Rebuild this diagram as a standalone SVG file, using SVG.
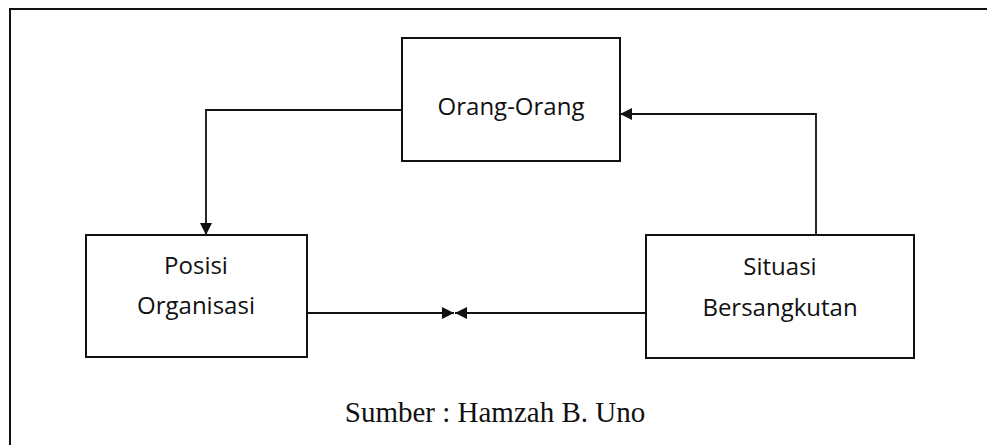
<svg xmlns="http://www.w3.org/2000/svg" width="987" height="445" viewBox="0 0 987 445">
<style>
.box{fill:#fff;stroke:#111;stroke-width:2}
.lbl{font-family:"Open Sans","Noto Sans",sans-serif;font-size:24px;fill:#111;text-anchor:middle}
.cap{font-family:"Liberation Serif",serif;font-size:29px;fill:#111;text-anchor:middle}
.con{fill:none;stroke:#111;stroke-width:1.8}
.frame{fill:none;stroke:#111;stroke-width:2}
</style>
<defs>
<marker id="ah" viewBox="0 0 10 10" refX="10" refY="5" markerWidth="13" markerHeight="12" markerUnits="userSpaceOnUse" orient="auto">
<path d="M0,0 L10,5 L0,10 z" fill="#111"/>
</marker>
</defs>
<rect width="987" height="445" fill="#fff"/>
<path class="frame" d="M10,445 V9 H987"/>
<g id="connectors">
<path class="con" d="M402,110 H206 V235" marker-end="url(#ah)"/>
<path class="con" d="M816,235 V114 H620" marker-end="url(#ah)"/>
<path class="con" d="M307,313 H454" marker-end="url(#ah)"/>
<path class="con" d="M646,313 H455" marker-end="url(#ah)"/>
</g>
<g id="orang">
<rect class="box" x="402" y="38" width="218" height="123"/>
<text class="lbl" x="511" y="115">Orang-Orang</text>
</g>
<g id="posisi">
<rect class="box" x="86" y="235" width="221" height="122"/>
<text class="lbl" x="196" y="274">Posisi</text>
<text class="lbl" x="196" y="314">Organisasi</text>
</g>
<g id="situasi">
<rect class="box" x="646" y="235" width="268" height="123"/>
<text class="lbl" x="780" y="275">Situasi</text>
<text class="lbl" x="780" y="316">Bersangkutan</text>
</g>
<text class="cap" x="495" y="422">Sumber : Hamzah B. Uno</text>
</svg>
